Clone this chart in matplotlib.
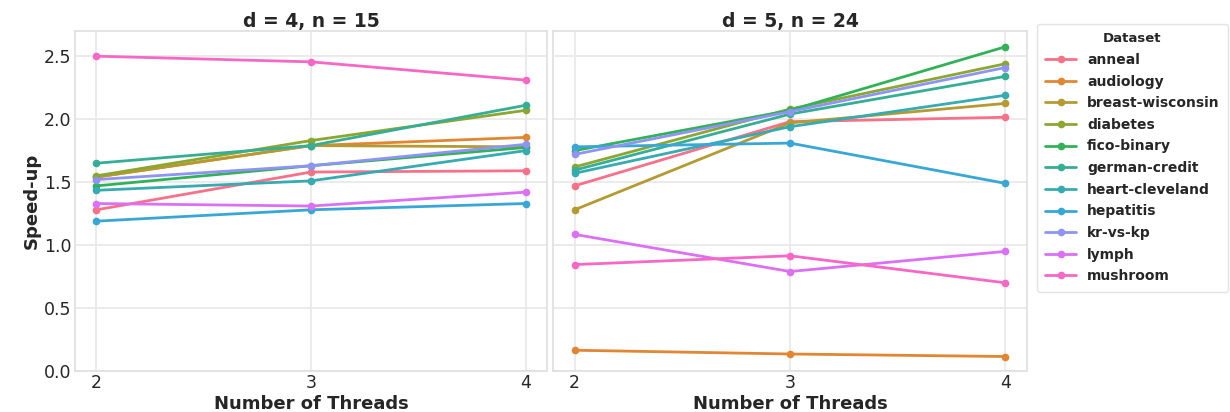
import matplotlib
matplotlib.use("Agg")
import matplotlib.pyplot as plt
import seaborn as sns

threads = [2, 3, 4]
datasets = ["anneal", "audiology", "breast-wisconsin", "diabetes", "fico-binary",
            "german-credit", "heart-cleveland", "hepatitis", "kr-vs-kp", "lymph", "mushroom"]

titles = ["d = 4, n = 15", "d = 5, n = 24"]

speedup_d4 = {
    "anneal": [1.28, 1.58, 1.59],
    "audiology": [1.54, 1.79, 1.855],
    "breast-wisconsin": [1.54, 1.79, 1.78],
    "diabetes": [1.55, 1.83, 2.07],
    "fico-binary": [1.47, 1.63, 1.775],
    "german-credit": [1.65, 1.79, 2.11],
    "heart-cleveland": [1.435, 1.51, 1.75],
    "hepatitis": [1.19, 1.28, 1.33],
    "kr-vs-kp": [1.52, 1.63, 1.80],
    "lymph": [1.33, 1.31, 1.42],
    "mushroom": [2.50, 2.455, 2.31],
}

speedup_d5 = {
    "anneal": [1.47, 1.98, 2.015],
    "audiology": [0.165, 0.135, 0.115],
    "breast-wisconsin": [1.28, 1.97, 2.125],
    "diabetes": [1.62, 2.08, 2.44],
    "fico-binary": [1.75, 2.07, 2.575],
    "german-credit": [1.595, 2.04, 2.34],
    "heart-cleveland": [1.57, 1.94, 2.19],
    "hepatitis": [1.78, 1.81, 1.49],
    "kr-vs-kp": [1.72, 2.06, 2.41],
    "lymph": [1.085, 0.79, 0.95],
    "mushroom": [0.845, 0.915, 0.70],
}

sns.set_theme(style="whitegrid")
plt.rcParams['font.family'] = ['DejaVu Sans']

colors = sns.color_palette("husl", len(datasets))

fig = plt.figure(figsize=(12.3, 4.12), dpi=100)
W, H = 1230, 412
ax1 = fig.add_axes([75 / W, 1 - 371 / H, (547 - 75) / W, (371 - 31) / H])
ax2 = fig.add_axes([553 / W, 1 - 371 / H, (1027 - 553) / W, (371 - 31) / H], sharey=ax1)

for ax, data, title in [(ax1, speedup_d4, titles[0]), (ax2, speedup_d5, titles[1])]:
    for name, c in zip(datasets, colors):
        ax.plot(threads, data[name], color=c, lw=2, marker="o", markersize=4.5, label=name)
    ax.set_title(title, fontsize=13.5, fontweight="bold", pad=3)
    ax.set_xlabel("Number of Threads", fontsize=13, fontweight="bold", labelpad=2)
    ax.set_xticks(threads)
    ax.set_xlim(1.9, 4.1)
    ax.tick_params(labelsize=12.5, length=0, pad=2.5)
    for s in ax.spines.values():
        s.set_color("#e0e0e0")
    ax.grid(color="#e8e8e8", lw=1.2)

ax1.set_ylim(0.0, 2.7)
ax1.set_yticks([0.0, 0.5, 1.0, 1.5, 2.0, 2.5])
ax1.set_ylabel("Speed-up", fontsize=13, fontweight="bold", labelpad=2)
plt.setp(ax2.get_yticklabels(), visible=False)

handles, labels = ax1.get_legend_handles_labels()
leg = fig.legend(handles, labels, title="Dataset", loc="upper left",
                 bbox_to_anchor=(1030 / W, 1 - 17 / H), frameon=True,
                 prop={"weight": "bold", "size": 10},
                 title_fontproperties={"weight": "bold", "size": 9.5},
                 handlelength=2.2, labelspacing=0.55, borderpad=0.6,
                 handletextpad=0.8)
leg.get_frame().set_edgecolor("#dddddd")

fig.savefig("out.png", dpi=100)
